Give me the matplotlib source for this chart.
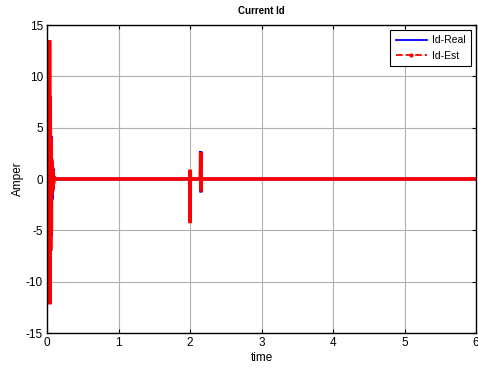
import matplotlib
matplotlib.use("Agg")
import matplotlib.pyplot as plt
from matplotlib.lines import Line2D

plt.rcParams['font.family'] = ['Liberation Sans', 'DejaVu Sans']
plt.rcParams['axes.unicode_minus'] = False

# time samples (s)
t = [0.000, 0.005, 0.010, 0.015, 0.020, 0.025, 0.030, 0.035, 0.040, 0.045,
     0.050, 0.055, 0.060, 0.065, 0.070, 0.075, 0.080, 0.085, 0.090, 0.095,
     0.100, 1.995, 2.000, 2.002, 2.004, 2.006, 2.010, 2.145, 2.150, 2.152,
     2.154, 2.160, 6.000]
id_real = [0.0, 9.5, -8.0, 11.2, -9.3, 10.0, -9.0, 8.5, -8.0, 7.0,
           -6.5, 4.2, -5.5, 2.0, -2.0, 1.5, -1.2, 1.0, -0.6, 0.3,
           0.0, 0.0, 0.8, -2.5, 0.5, -0.2, 0.0, 0.0, 2.7, -1.3,
           0.6, 0.0, 0.0]
id_est = [0.0, 8.0, -7.5, 10.5, -9.5, 11.0, -11.0, 13.5, -12.2, 8.0,
          -7.0, 4.0, -5.0, 1.8, -1.5, 1.2, -1.0, 0.8, -0.5, 0.2,
          0.0, 0.0, 0.9, -4.3, 0.4, -0.2, 0.0, 0.0, 2.6, -1.2,
          0.5, 0.0, 0.0]

fig = plt.figure(figsize=(4.78, 3.72), dpi=100)
ax = fig.add_axes([47/478, 1 - 333/372, 429/478, 308/372])

ax.plot(t, id_real, color='blue', lw=2.2, solid_capstyle='butt', solid_joinstyle='miter')
ax.plot(t, id_est, color='red', lw=2.6, solid_capstyle='butt', solid_joinstyle='miter')

ax.set_xlim(0, 6)
ax.set_ylim(-15, 15)
ax.set_xticks([0, 1, 2, 3, 4, 5, 6])
ax.set_yticks([-15, -10, -5, 0, 5, 10, 15])
ax.grid(True, color='#b0b0b0', lw=0.8, ls='-')
ax.set_axisbelow(True)
ax.tick_params(direction='in', labelsize=8.5, top=True, right=True, length=3, pad=3)
for s in ax.spines.values():
    s.set_linewidth(1.0)

ax.set_title('Current Id', fontsize=7, fontweight='bold', pad=8)
ax.set_xlabel('time', fontsize=8.5, labelpad=2)
ax.set_ylabel('Amper', fontsize=8.5, labelpad=1)

handles = [Line2D([], [], color='blue', lw=1.3, ls='-'),
           Line2D([], [], color='red', lw=1.3, ls='--', marker='.', markersize=4)]
leg = ax.legend(handles, ['Id-Real', 'Id-Est'], loc='upper right', fontsize=7.5,
                fancybox=False, edgecolor='black', framealpha=1,
                borderaxespad=0.5, handlelength=3.0, labelspacing=0.55,
                borderpad=0.5, handletextpad=0.5)
leg.get_frame().set_linewidth(0.8)

fig.savefig('out.png', dpi=100)
